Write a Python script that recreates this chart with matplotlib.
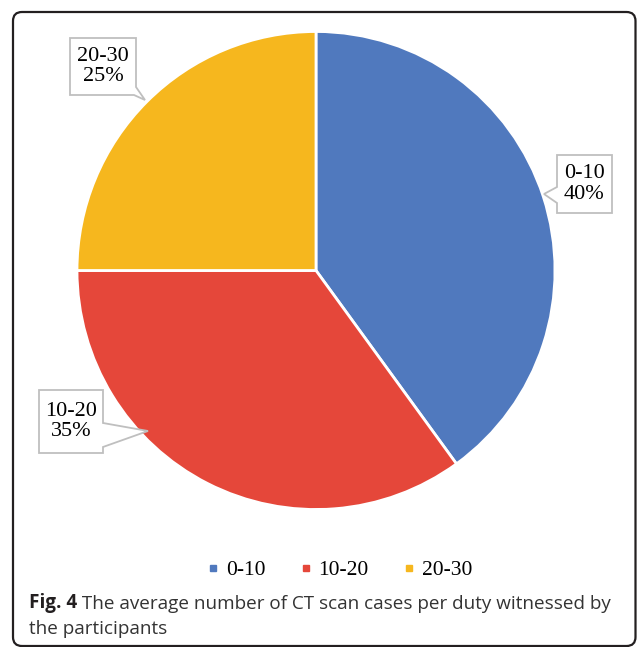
import matplotlib
matplotlib.use("Agg")
import matplotlib.pyplot as plt
from matplotlib.patches import Polygon, FancyBboxPatch
from matplotlib.lines import Line2D

# data
categories = ["0-10", "10-20", "20-30"]
percents = [40, 35, 25]
colors = ["#5079BE", "#E5473A", "#F6B71E"]
caption_bold = "Fig. 4"
caption_rest = " The average number of CT scan cases per duty witnessed by"
caption_line2 = "the participants"

W, H = 637, 647
fig = plt.figure(figsize=(W / 100, H / 100), dpi=100)
ax = fig.add_axes([0, 0, 1, 1])

def py(y):
    # pixel row -> data y (origin at bottom)
    return H - y

wedges, _ = ax.pie(percents, colors=colors, startangle=90, counterclock=False,
                   center=(316, py(270.5)), radius=239,
                   wedgeprops=dict(edgecolor="white", linewidth=2))
ax.set_xlim(0, W)
ax.set_ylim(0, H)
ax.set_aspect("equal")
ax.axis("off")

# outer frame
frame = FancyBboxPatch((13, py(646)), 622.5, 634, boxstyle="round,pad=0,rounding_size=9",
                       facecolor="none", edgecolor="#231F20", linewidth=1.6, clip_on=False)
ax.add_patch(frame)

# callout boxes (pixel coords): outline vertices, text centre
callouts = [
    ([(557, 155), (612, 155), (612, 213), (557, 213), (557, 203), (544, 194), (557, 187)],
     (584.5, 184)),
    ([(39, 390), (103, 390), (103, 423), (148, 431), (103, 447), (103, 453), (39, 453)],
     (71, 421.5)),
    ([(70, 38), (136, 38), (136, 87), (145, 100), (134, 95), (70, 95)],
     (103, 66.5)),
]
for (verts, (tx, ty)), cat, pct in zip(callouts, categories, percents):
    poly = Polygon([(x, py(y)) for x, y in verts], closed=True, facecolor="white",
                   edgecolor="#BFBFBF", linewidth=1.3, zorder=5)
    ax.add_patch(poly)
    ax.text(tx, py(ty), f"{cat}\n{pct}%", ha="center", va="center", fontsize=16,
            family="Liberation Serif", linespacing=1.12, color="black", zorder=6)

# legend
handles = [Line2D([], [], marker="s", linestyle="none", markersize=5,
                  markerfacecolor=c, markeredgecolor=c) for c in colors]
leg = fig.legend(handles, categories, loc="center", bbox_to_anchor=(340 / W, 1 - 570 / H),
                 ncol=3, frameon=False, handlelength=0.5, handletextpad=0.35,
                 columnspacing=1.6, prop={"family": "Liberation Serif", "size": 15.5})

# caption
t1 = ax.text(29, py(608), caption_bold, fontsize=13.6, fontweight="bold",
             family="Open Sans", color="#231F20", va="baseline", ha="left")
ax.annotate(caption_rest, xy=(1, 0), xycoords=t1, va="bottom", ha="left",
            fontsize=13.6, family="Open Sans", color="#333333")
ax.text(29, py(634), caption_line2, fontsize=13.6, family="Open Sans",
        color="#333333", va="baseline", ha="left")

fig.savefig("out.png", dpi=100)
